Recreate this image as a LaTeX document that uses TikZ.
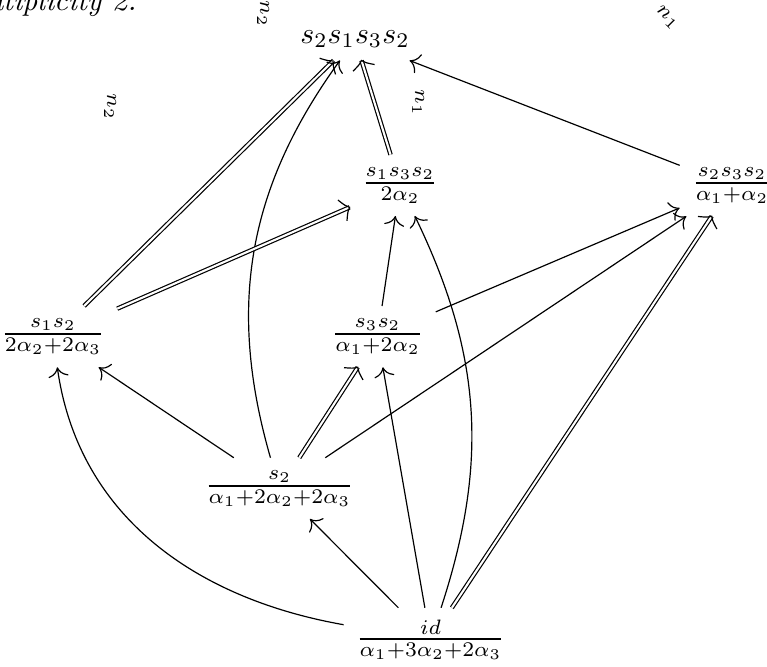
\documentclass[tikz,border=0pt]{standalone}
\usepackage{amsmath,amssymb}
\usetikzlibrary{arrows.meta, decorations.markings}
\newcommand{\wfrac}[2]{\genfrac{}{}{0.8pt}{1}{#1}{#2}}
\makeatletter
\tikzset{nodouble/.code={\let\tikz@double@setup\relax\pgfsetinnerlinewidth{0pt}}}
\makeatother

\begin{document}
\begin{tikzpicture}[x=1.18cm, y=1.18cm,
    vtx/.style={inner sep=4pt, anchor=base},
    sgl/.style={-{To[scale=1.3]}},
    dbl/.style={double, double distance=0.7pt,
        postaction={decorate, decoration={markings, mark=at position 1 with
            {\draw[nodouble, line width=0.4pt] (-2.6pt,3.8pt) .. controls (-1.2pt,1.2pt) .. (0,0)
                .. controls (-1.2pt,-1.2pt) .. (-2.6pt,-3.8pt);}}}},
    lbl/.style={inner sep=0pt, rotate=-90}]
    \useasboundingbox (0,0) rectangle (7.67,-6.66);

    % Caption fragment
    \node[anchor=base east, inner sep=0pt, font=\itshape] (capt) at (1.37,-0.107) {ultiplicity 2.};

    % Elements with their weights
    \node[vtx] (s2132) at (3.55,-0.435) {$s_2s_1s_3s_2$};
    \node[vtx] (s132) at (4.00,-1.902) {$\wfrac{s_1s_3s_2}{2\alpha_2}$};
    \node[vtx] (s232) at (7.32,-1.905) {$\wfrac{s_2s_3s_2}{\alpha_1+\alpha_2}$};
    \node[vtx] (s12) at (0.53,-3.415) {$\wfrac{s_1s_2}{2\alpha_2+2\alpha_3}$};
    \node[vtx] (s32) at (3.775,-3.415) {$\wfrac{s_3s_2}{\alpha_1+2\alpha_2}$};
    \node[vtx] (s2) at (2.795,-4.932) {$\wfrac{s_2}{\alpha_1+2\alpha_2+2\alpha_3}$};
    \node[vtx] (id) at (4.305,-6.465) {$\wfrac{id}{\alpha_1+3\alpha_2+2\alpha_3}$};

    % Rotated labels
    \node[lbl] (n2a) at (1.10,-1.07) {$\scriptstyle n_2$};
    \node[lbl] (n1a) at (4.18,-1.03) {$\scriptstyle n_1$};
    \node[lbl] (n2b) at (2.63,-0.14) {$\scriptstyle n_2$};
    \node[inner sep=0pt, rotate=-45] (n1b) at (6.67,-0.18) {$\scriptstyle n_1$};

    % Arrows into the top
    \draw[dbl] (s12) -- (s2132);
    \draw[sgl] (s2) to[bend left=26] (s2132);
    \draw[dbl] (s132) -- (s2132);
    \draw[sgl] (s232) -- (s2132);

    % Middle rows
    \draw[dbl] (s12) -- (s132);
    \draw[sgl] (s32) -- (s132);
    \draw[sgl] (s32) -- (s232);
    \draw[dbl] (s2) -- (s32);
    \draw[sgl] (s2) -- (s232);
    \draw[sgl] (s2) -- (s12);

    % Arrows out of id
    \draw[sgl] (id) to[out=170, in=-82] (s12);
    \draw[sgl] (id) -- (s2);
    \draw[sgl] (id) -- (s32);
    \draw[sgl] (id) to[bend right=22] (s132);
    \draw[dbl] (id) -- (s232);
\end{tikzpicture}
\end{document}
